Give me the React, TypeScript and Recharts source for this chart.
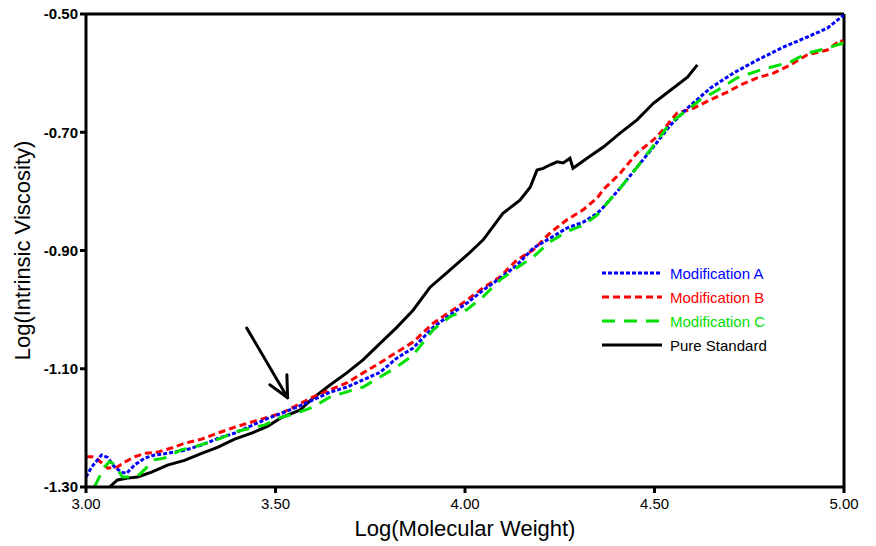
import React from 'react';
import { LineChart, Line, XAxis, YAxis, ReferenceLine, Legend, Label } from 'recharts';

const FONT = '"Liberation Sans", Arial, Helvetica, sans-serif';

const xTicks = [3.0, 3.5, 4.0, 4.5, 5.0];
const yTicks = [-1.3, -1.1, -0.9, -0.7, -0.5];

const pureStandard = [
  { x: 3.062, y: -1.3 }, { x: 3.083, y: -1.288 }, { x: 3.11, y: -1.285 }, { x: 3.136, y: -1.283 },
  { x: 3.173, y: -1.275 }, { x: 3.215, y: -1.263 }, { x: 3.26, y: -1.255 }, { x: 3.305, y: -1.243 },
  { x: 3.347, y: -1.233 }, { x: 3.392, y: -1.219 }, { x: 3.437, y: -1.209 }, { x: 3.48, y: -1.197 },
  { x: 3.517, y: -1.182 }, { x: 3.564, y: -1.17 }, { x: 3.598, y: -1.15 }, { x: 3.643, y: -1.128 },
  { x: 3.688, y: -1.107 }, { x: 3.731, y: -1.085 }, { x: 3.776, y: -1.057 }, { x: 3.82, y: -1.03 },
  { x: 3.863, y: -1.001 }, { x: 3.908, y: -0.962 }, { x: 3.96, y: -0.933 }, { x: 4.005, y: -0.908 },
  { x: 4.048, y: -0.882 }, { x: 4.1, y: -0.837 }, { x: 4.145, y: -0.815 }, { x: 4.172, y: -0.793 },
  { x: 4.19, y: -0.764 }, { x: 4.206, y: -0.761 }, { x: 4.225, y: -0.755 }, { x: 4.243, y: -0.75 },
  { x: 4.259, y: -0.752 }, { x: 4.277, y: -0.744 }, { x: 4.285, y: -0.761 }, { x: 4.322, y: -0.744 },
  { x: 4.365, y: -0.725 }, { x: 4.41, y: -0.701 }, { x: 4.454, y: -0.679 }, { x: 4.497, y: -0.651 },
  { x: 4.542, y: -0.629 }, { x: 4.587, y: -0.607 }, { x: 4.613, y: -0.586 },
];

const modificationA = [
  { x: 3.0, y: -1.283 }, { x: 3.015, y: -1.266 }, { x: 3.041, y: -1.246 }, { x: 3.057, y: -1.25 },
  { x: 3.075, y: -1.266 }, { x: 3.094, y: -1.275 }, { x: 3.107, y: -1.277 }, { x: 3.128, y: -1.263 },
  { x: 3.155, y: -1.251 }, { x: 3.181, y: -1.246 }, { x: 3.215, y: -1.243 }, { x: 3.26, y: -1.238 },
  { x: 3.305, y: -1.229 }, { x: 3.347, y: -1.218 }, { x: 3.392, y: -1.209 }, { x: 3.437, y: -1.196 },
  { x: 3.48, y: -1.184 }, { x: 3.517, y: -1.175 }, { x: 3.556, y: -1.165 }, { x: 3.598, y: -1.153 },
  { x: 3.643, y: -1.14 }, { x: 3.688, y: -1.131 }, { x: 3.731, y: -1.119 }, { x: 3.776, y: -1.106 },
  { x: 3.82, y: -1.082 }, { x: 3.863, y: -1.065 }, { x: 3.916, y: -1.03 }, { x: 3.96, y: -1.009 },
  { x: 4.005, y: -0.989 }, { x: 4.048, y: -0.967 }, { x: 4.092, y: -0.947 }, { x: 4.137, y: -0.925 },
  { x: 4.18, y: -0.896 }, { x: 4.225, y: -0.879 }, { x: 4.269, y: -0.862 }, { x: 4.312, y: -0.852 },
  { x: 4.349, y: -0.837 }, { x: 4.365, y: -0.827 }, { x: 4.41, y: -0.794 }, { x: 4.454, y: -0.759 },
  { x: 4.497, y: -0.725 }, { x: 4.542, y: -0.688 }, { x: 4.587, y: -0.659 }, { x: 4.648, y: -0.625 },
  { x: 4.708, y: -0.6 }, { x: 4.771, y: -0.578 }, { x: 4.84, y: -0.556 }, { x: 4.903, y: -0.539 },
  { x: 4.956, y: -0.524 }, { x: 4.999, y: -0.502 },
];

const modificationB = [
  { x: 3.001, y: -1.249 }, { x: 3.022, y: -1.249 }, { x: 3.041, y: -1.259 }, { x: 3.057, y: -1.268 },
  { x: 3.083, y: -1.266 }, { x: 3.102, y: -1.258 }, { x: 3.128, y: -1.249 }, { x: 3.155, y: -1.243 },
  { x: 3.189, y: -1.241 }, { x: 3.226, y: -1.234 }, { x: 3.26, y: -1.226 }, { x: 3.305, y: -1.219 },
  { x: 3.347, y: -1.209 }, { x: 3.392, y: -1.199 }, { x: 3.437, y: -1.19 }, { x: 3.48, y: -1.182 },
  { x: 3.517, y: -1.175 }, { x: 3.556, y: -1.162 }, { x: 3.598, y: -1.148 }, { x: 3.643, y: -1.136 },
  { x: 3.688, y: -1.124 }, { x: 3.731, y: -1.107 }, { x: 3.776, y: -1.09 }, { x: 3.82, y: -1.072 },
  { x: 3.863, y: -1.055 }, { x: 3.916, y: -1.023 }, { x: 3.96, y: -1.004 }, { x: 4.005, y: -0.984 },
  { x: 4.048, y: -0.963 }, { x: 4.092, y: -0.945 }, { x: 4.137, y: -0.916 }, { x: 4.18, y: -0.899 },
  { x: 4.225, y: -0.87 }, { x: 4.269, y: -0.848 }, { x: 4.312, y: -0.831 }, { x: 4.349, y: -0.811 },
  { x: 4.365, y: -0.797 }, { x: 4.41, y: -0.769 }, { x: 4.454, y: -0.735 }, { x: 4.497, y: -0.713 },
  { x: 4.523, y: -0.696 }, { x: 4.56, y: -0.667 }, { x: 4.594, y: -0.662 }, { x: 4.648, y: -0.645 },
  { x: 4.692, y: -0.632 }, { x: 4.727, y: -0.62 }, { x: 4.771, y: -0.608 }, { x: 4.814, y: -0.6 },
  { x: 4.859, y: -0.586 }, { x: 4.903, y: -0.569 }, { x: 4.956, y: -0.561 }, { x: 4.991, y: -0.544 },
  { x: 4.999, y: -0.549 },
];

const modificationC = [
  { x: 3.022, y: -1.3 }, { x: 3.049, y: -1.266 }, { x: 3.062, y: -1.257 }, { x: 3.075, y: -1.262 },
  { x: 3.096, y: -1.283 }, { x: 3.12, y: -1.283 }, { x: 3.141, y: -1.279 }, { x: 3.181, y: -1.254 },
  { x: 3.207, y: -1.251 }, { x: 3.252, y: -1.237 }, { x: 3.287, y: -1.232 }, { x: 3.321, y: -1.225 },
  { x: 3.358, y: -1.217 }, { x: 3.392, y: -1.207 }, { x: 3.472, y: -1.195 }, { x: 3.511, y: -1.183 },
  { x: 3.556, y: -1.175 }, { x: 3.598, y: -1.165 }, { x: 3.643, y: -1.148 }, { x: 3.688, y: -1.139 },
  { x: 3.731, y: -1.131 }, { x: 3.776, y: -1.114 }, { x: 3.82, y: -1.097 }, { x: 3.863, y: -1.077 },
  { x: 3.916, y: -1.034 }, { x: 3.96, y: -1.012 }, { x: 4.005, y: -1.0 }, { x: 4.048, y: -0.978 },
  { x: 4.092, y: -0.95 }, { x: 4.137, y: -0.929 }, { x: 4.18, y: -0.911 }, { x: 4.225, y: -0.885 },
  { x: 4.269, y: -0.868 }, { x: 4.312, y: -0.857 }, { x: 4.349, y: -0.84 }, { x: 4.365, y: -0.827 },
  { x: 4.41, y: -0.794 }, { x: 4.454, y: -0.759 }, { x: 4.497, y: -0.723 }, { x: 4.542, y: -0.684 },
  { x: 4.587, y: -0.662 }, { x: 4.621, y: -0.645 }, { x: 4.666, y: -0.629 }, { x: 4.718, y: -0.608 },
  { x: 4.779, y: -0.595 }, { x: 4.859, y: -0.581 }, { x: 4.903, y: -0.566 }, { x: 4.938, y: -0.561 },
  { x: 4.999, y: -0.549 },
];

// annotation arrow (data coordinates): shaft and two head arms, all ending at the tip
const arrowTip = { x: 3.532, y: -1.149 };
const arrowTails = [
  { x: 3.424, y: -1.031 },
  { x: 3.485, y: -1.127 },
  { x: 3.53, y: -1.11 },
];

const seriesStyles = [
  { name: 'Modification A', color: '#0000ff', dash: '4 2' },
  { name: 'Modification B', color: '#ff0000', dash: '7 4' },
  { name: 'Modification C', color: '#00e000', dash: '13 9' },
  { name: 'Pure Standard', color: '#000000', dash: undefined as string | undefined },
];

const renderLegend = () => (
  <div style={{ fontFamily: FONT, fontSize: 15 }}>
    {seriesStyles.map((s) => (
      <div key={s.name} style={{ display: 'flex', alignItems: 'center', height: 24 }}>
        <svg width={60} height={6} style={{ display: 'block' }}>
          <line x1={0} y1={3} x2={60} y2={3} stroke={s.color} strokeWidth={3} strokeDasharray={s.dash} />
        </svg>
        <span style={{ color: s.color, marginLeft: 8, whiteSpace: 'nowrap' }}>{s.name}</span>
      </div>
    ))}
  </div>
);

export default function App() {
  const st = (n: string) => seriesStyles.find((s) => s.name === n)!;
  return (
    <div style={{ position: 'absolute', left: 0, top: 0, background: '#fff' }}>
      <LineChart width={876} height={546} margin={{ top: 14, right: 32, bottom: 0, left: 0 }}>
        <XAxis
          type="number"
          dataKey="x"
          domain={[3, 5]}
          ticks={xTicks}
          tickFormatter={(v: number) => v.toFixed(2)}
          allowDataOverflow
          height={59}
          axisLine={{ stroke: '#000', strokeWidth: 3 }}
          tickLine={{ stroke: '#000', strokeWidth: 3 }}
          tickSize={6}
          tickMargin={5}
          tick={{ fill: '#000', fontSize: 15, fontFamily: FONT }}
        >
          <Label
            value="Log(Molecular Weight)"
            position="insideBottom"
            offset={10}
            style={{ fill: '#000', fontSize: 22, fontFamily: FONT }}
          />
        </XAxis>
        <YAxis
          type="number"
          dataKey="y"
          domain={[-1.3, -0.5]}
          ticks={yTicks}
          tickFormatter={(v: number) => v.toFixed(2)}
          allowDataOverflow
          width={86}
          axisLine={{ stroke: '#000', strokeWidth: 3 }}
          tickLine={{ stroke: '#000', strokeWidth: 3 }}
          tickSize={6}
          tick={{ fill: '#000', fontSize: 15, fontFamily: FONT, fontWeight: 'bold' }}
        >
          <Label
            value="Log(Intrinsic Viscosity)"
            position="insideLeft"
            angle={-90}
            offset={22}
            style={{ fill: '#000', fontSize: 22, fontFamily: FONT, textAnchor: 'middle' }}
          />
        </YAxis>
        <ReferenceLine y={-0.5} stroke="#000" strokeWidth={3} />
        <ReferenceLine x={5} stroke="#000" strokeWidth={3} />
        {arrowTails.map((t, i) => (
          <ReferenceLine
            key={i}
            segment={[t, arrowTip]}
            stroke="#000"
            strokeWidth={3}
            strokeLinecap="round"
          />
        ))}
        <Legend
          layout="horizontal"
          verticalAlign="middle"
          align="center"
          content={renderLegend}
          wrapperStyle={{ left: 602, top: 261, width: 200 }}
        />
        <Line
          data={pureStandard}
          dataKey="y"
          name="Pure Standard"
          type="linear"
          stroke={st('Pure Standard').color}
          strokeWidth={3}
          dot={false}
          isAnimationActive={false}
        />
        <Line
          data={modificationB}
          dataKey="y"
          name="Modification B"
          type="linear"
          stroke={st('Modification B').color}
          strokeDasharray={st('Modification B').dash}
          strokeWidth={3}
          dot={false}
          isAnimationActive={false}
        />
        <Line
          data={modificationA}
          dataKey="y"
          name="Modification A"
          type="linear"
          stroke={st('Modification A').color}
          strokeDasharray={st('Modification A').dash}
          strokeWidth={3}
          dot={false}
          isAnimationActive={false}
        />
        <Line
          data={modificationC}
          dataKey="y"
          name="Modification C"
          type="linear"
          stroke={st('Modification C').color}
          strokeDasharray={st('Modification C').dash}
          strokeWidth={3}
          dot={false}
          isAnimationActive={false}
        />
      </LineChart>
    </div>
  );
}
